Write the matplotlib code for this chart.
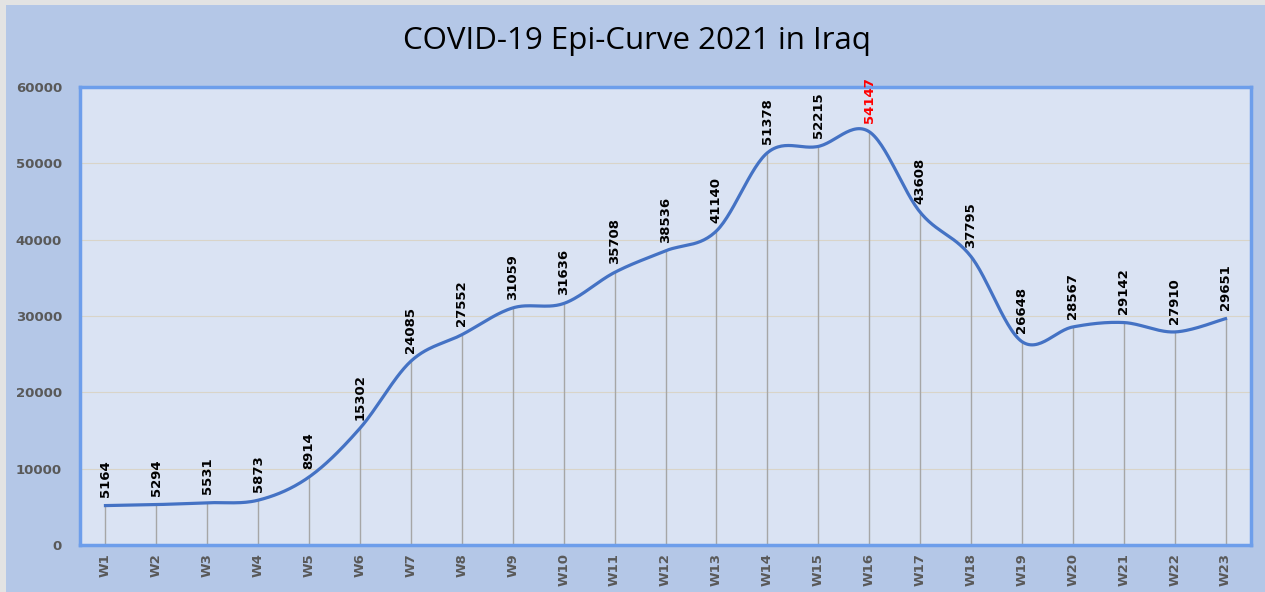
import numpy as np
import matplotlib.pyplot as plt
from matplotlib.patches import Rectangle

weeks = ['W%d' % i for i in range(1, 24)]
cases = [5164, 5294, 5531, 5873, 8914, 15302, 24085, 27552, 31059, 31636,
         35708, 38536, 41140, 51378, 52215, 54147, 43608, 37795, 26648,
         28567, 29142, 27910, 29651]
peak_week = 'W16'


def smooth_curve(x, y, n=30):
    # Excel-like smoothed line: Bezier segments with Catmull-Rom control points
    x = np.asarray(x, float)
    y = np.asarray(y, float)
    px = np.concatenate([[x[0]], x, [x[-1]]])
    py = np.concatenate([[y[0]], y, [y[-1]]])
    xs, ys = [], []
    t = np.linspace(0, 1, n)
    for i in range(1, len(px) - 2):
        p0 = np.array([px[i], py[i]])
        p3 = np.array([px[i + 1], py[i + 1]])
        p1 = p0 + (np.array([px[i + 1], py[i + 1]]) - np.array([px[i - 1], py[i - 1]])) / 6
        p2 = p3 - (np.array([px[i + 2], py[i + 2]]) - np.array([px[i], py[i]])) / 6
        b = ((1 - t) ** 3)[:, None] * p0 + (3 * (1 - t) ** 2 * t)[:, None] * p1 \
            + (3 * (1 - t) * t ** 2)[:, None] * p2 + (t ** 3)[:, None] * p3
        xs.extend(b[:, 0])
        ys.extend(b[:, 1])
    return np.array(xs), np.array(ys)


fig = plt.figure(figsize=(12.65, 5.92), dpi=100)
fig.patch.set_facecolor('#b4c7e7')
# light grey frame along the top and left edges
fig.patches.append(Rectangle((0, 1 - 5 / 592), 1, 5 / 592, transform=fig.transFigure,
                             facecolor='#e3e3e3', edgecolor='none', zorder=0))
fig.patches.append(Rectangle((0, 0), 6 / 1265, 1, transform=fig.transFigure,
                             facecolor='#e3e3e3', edgecolor='none', zorder=0))

ax = fig.add_axes([80 / 1265, 1 - 545 / 592, (1251 - 80) / 1265, (545 - 87) / 592])
ax.set_zorder(2)
ax.set_facecolor('#dae3f3')
x = np.arange(len(weeks))

ax.set_xlim(-0.5, len(weeks) - 0.5)
ax.set_ylim(0, 60000)
ax.set_yticks(np.arange(0, 60001, 10000))
ax.grid(axis='y', color='#d9d4c8', linewidth=0.8)
ax.set_axisbelow(True)

ax.vlines(x, 0, cases, color='#a6a6a6', linewidth=1, zorder=2)
sx, sy = smooth_curve(x, cases)
ax.plot(sx, sy, color='#4472c4', linewidth=2.3, zorder=3)

for xi, wk, v in zip(x, weeks, cases):
    ax.annotate(str(v), (xi, v), xytext=(0, 6), textcoords='offset points',
                rotation=90, ha='center', va='bottom', fontsize=9.5, fontweight='bold',
                color='red' if wk == peak_week else 'black', zorder=4,
                annotation_clip=False)

ax.set_xticks(x)
ax.set_xticklabels(weeks, rotation=90, fontsize=9.5, fontweight='bold', color='#595959')
for lbl in ax.get_yticklabels():
    lbl.set_fontsize(9.5)
    lbl.set_fontweight('bold')
    lbl.set_color('#595959')
ax.tick_params(axis='x', length=0, pad=6)
ax.tick_params(axis='y', length=0, pad=13)

for side in ['left', 'bottom', 'right', 'top']:
    ax.spines[side].set_color('#6d9eeb')
    ax.spines[side].set_linewidth(2.5)

fig.text(637 / 1265, 1 - 41 / 592, 'COVID-19 Epi-Curve 2021 in Iraq', ha='center', va='center',
         fontsize=22.5, family='Open Sans', color='black')

fig.savefig('out.png', dpi=100, facecolor=fig.get_facecolor())
